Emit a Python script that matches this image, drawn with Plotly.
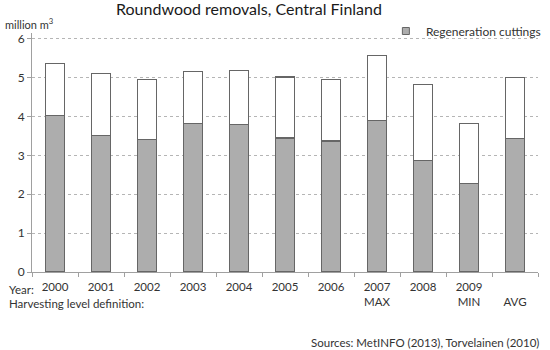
import plotly.graph_objects as go

categories = ["2000", "2001", "2002", "2003", "2004", "2005", "2006", "2007", "2008", "2009", "AVG"]
tick_labels = ["2000", "2001", "2002", "2003", "2004", "2005", "2006", "2007<br>MAX", "2008", "2009<br>MIN", "\u00a0<br>AVG"]
y_ticks = [0, 1, 2, 3, 4, 5, 6]
y_tick_labels = ["0", "1", "2", "3", "4", "5", "6"]
regeneration = [4.02, 3.51, 3.41, 3.82, 3.79, 3.45, 3.37, 3.90, 2.87, 2.28, 3.44]
total = [5.36, 5.10, 4.95, 5.16, 5.19, 5.02, 4.96, 5.57, 4.82, 3.82, 5.00]
other = [round(t - r, 2) for t, r in zip(total, regeneration)]

FONT = "Lato"
EDGE = "#666666"
GREY = "#adadad"
TXT = "#333333"

fig = go.Figure()
fig.add_trace(go.Bar(x=categories, y=regeneration, name="Regeneration cuttings",
                     marker=dict(color=GREY, line=dict(color=EDGE, width=1.2)),
                     showlegend=False))
fig.add_trace(go.Bar(x=categories, y=other, name="Other cuttings",
                     marker=dict(color="white", line=dict(color=EDGE, width=1.2)),
                     showlegend=False))
# legend entry with a small square symbol
fig.add_trace(go.Scatter(x=[None], y=[None], mode="markers", name="Regeneration cuttings",
                         marker=dict(symbol="square", size=7, color=GREY,
                                     line=dict(color=EDGE, width=1)),
                         showlegend=True))

W, H = 550, 350
Y0_PX, Y6_PX = 272, 39          # pixel rows of value 0 and 6
YMAX = 6.15
unit = (Y0_PX - Y6_PX) / 6.0
T = round(Y0_PX - YMAX * unit)
L, R, B = 32, 4, H - Y0_PX
pw, ph = W - L - R, H - T - B

def px(x):
    return (x - L) / pw

def py(y):
    return (H - B - y) / ph

fig.update_layout(
    width=W, height=H,
    margin=dict(l=L, r=R, t=T, b=B),
    paper_bgcolor="white", plot_bgcolor="white",
    barmode="stack", bargap=0.6,
    font=dict(family=FONT, size=12, color=TXT),
    title=dict(text="Roundwood removals, Central Finland", x=249 / W, xanchor="center",
               y=1 - 9 / H, yanchor="middle", yref="container",
               font=dict(family=FONT, size=16, color="#1a1a1a")),
    showlegend=True,
    legend=dict(x=1.0 + 8 / pw, xanchor="right", y=py(31), yanchor="middle",
                bgcolor="rgba(0,0,0,0)", borderwidth=0, itemclick=False,
                font=dict(family=FONT, size=12, color=TXT)),
    xaxis=dict(type="category", categoryorder="array", categoryarray=categories,
               tickmode="array", tickvals=categories, ticktext=tick_labels,
               tickson="boundaries", ticks="outside", ticklen=4, tickcolor="#a0a0a0",
               ticklabelstandoff=4,
               showline=True, linecolor="#a0a0a0", linewidth=1, showgrid=False,
               tickfont=dict(family=FONT, size=11.5, color=TXT)),
    yaxis=dict(range=[0, YMAX], tickmode="array", tickvals=y_ticks, ticktext=y_tick_labels,
               ticklabeloverflow="allow",
               showgrid=True, griddash="dot",
               gridcolor="#b5b5b5", gridwidth=1, zeroline=False,
               showline=True, linecolor="#a0a0a0", linewidth=1,
               ticks="outside", ticklen=4, tickcolor="#a0a0a0",
               tickfont=dict(family=FONT, size=12, color=TXT)),
)

annotations = [
    dict(text="million m<sup>3</sup>", x=px(2.5), y=py(23), xanchor="left", yanchor="middle",
         font=dict(size=11)),
    dict(text="Year:", x=px(7), y=py(289), xanchor="left", yanchor="middle",
         font=dict(size=11.5)),
    dict(text="Harvesting level definition:", x=px(7), y=py(303), xanchor="left", yanchor="middle",
         font=dict(size=11.5)),
    dict(text="Sources: MetINFO (2013), Torvelainen (2010)", x=px(549), y=py(342),
         xanchor="right", yanchor="middle", font=dict(size=11.5)),
]
for a in annotations:
    a.update(xref="paper", yref="paper", showarrow=False)
    fig.add_annotation(**a)

fig.write_html("out.html")
